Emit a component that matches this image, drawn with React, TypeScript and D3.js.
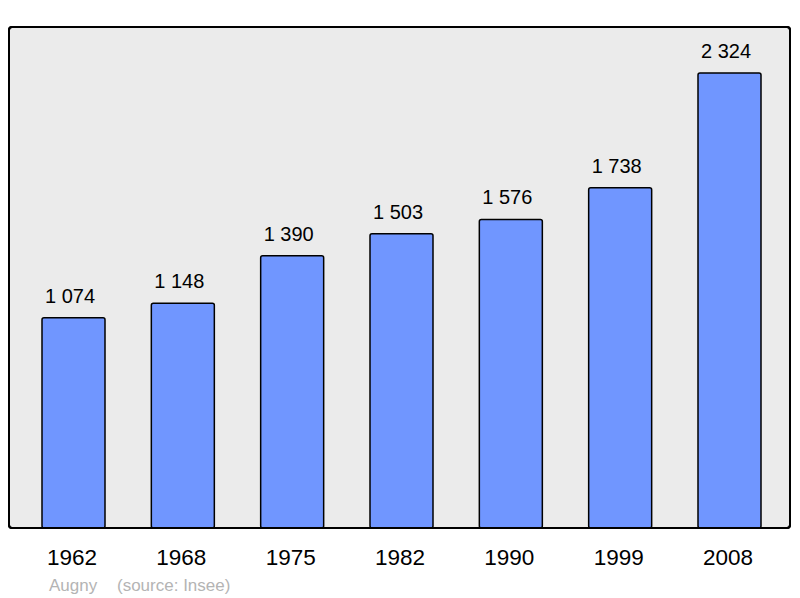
import React from "react";
import * as d3 from "d3";

const years = ["1962", "1968", "1975", "1982", "1990", "1999", "2008"];
const population = [1074, 1148, 1390, 1503, 1576, 1738, 2324];
const commune = "Augny";
const source = "(source: Insee)";

const fmt = (v: number) => d3.format(",")(v).replace(/,/g, " ");

export default function App() {
  const W = 800, H = 598;
  const frame = { x: 9, y: 27, w: 781, h: 501 };
  const xs = d3.scaleLinear().domain([0, years.length - 1]).range([73.5, 729.5]);
  const y = d3.scaleLinear().domain([0, 2324]).range([528, 73]);
  const bw = 63;
  return (
    <svg width={W} height={H} style={{ position: "absolute", left: 0, top: 0 }} fontFamily="'Liberation Sans', Arial, sans-serif">
      <rect x={frame.x} y={frame.y} width={frame.w} height={frame.h} rx={3} fill="#ebebeb" stroke="#000" strokeWidth={2} />
      {population.map((v, i) => {
        const cx = xs(i);
        return (
          <g key={years[i]}>
            <rect x={cx - bw / 2} y={y(v)} width={bw} height={y(0) - y(v)} rx={2} fill="#7096ff" stroke="#000" strokeWidth={1.5} />
            <text x={cx - 3.5} y={y(v) - 15} textAnchor="middle" fontSize={20} fill="#000">{fmt(v)}</text>
            <text x={cx - 1.5} y={565} textAnchor="middle" fontSize={22.5} fill="#000">{years[i]}</text>
          </g>
        );
      })}
      <rect x={frame.x} y={frame.y} width={frame.w} height={frame.h} rx={3} fill="none" stroke="#000" strokeWidth={2} />
      <text x={49} y={591} fontSize={17} fill="#b4b4b4">{commune}</text>
      <text x={117} y={591} fontSize={17} fill="#b4b4b4">{source}</text>
    </svg>
  );
}
